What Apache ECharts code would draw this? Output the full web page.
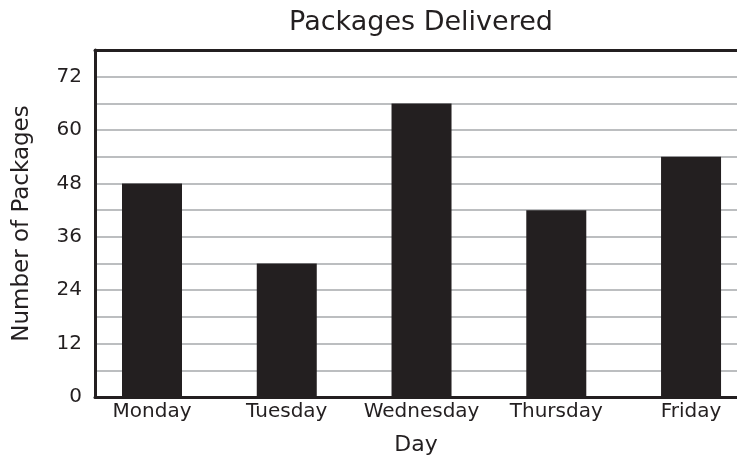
<!DOCTYPE html>
<html>
<head>
<meta charset="utf-8">
<script src="https://cdn.jsdelivr.net/npm/echarts@6/dist/echarts.min.js"></script>
<style>
  html, body { margin: 0; padding: 0; background: #fff; }
  #chart { width: 737px; height: 461px; }
</style>
</head>
<body>
<div id="chart"></div>
<script>
// days and packages per day
let dayList = ['Monday', 'Tuesday', 'Wednesday', 'Thursday', 'Friday']
let packageList = [48, 30, 66, 42, 54]
let yTicks = [0, 12, 24, 36, 48, 60, 72]

let ink = '#231f20'
let fontName = 'DejaVu Sans'

let chart = echarts.init(document.getElementById('chart'))

// x is a value axis holding day indexes so the bars sit where the picture has them
let barData = packageList.map(function (v, i) { return [i, v] })

let option = {
  animation: false,
  title: {
    text: 'Packages Delivered',
    left: 416,
    textAlign: 'center',
    top: 4,
    textStyle: { fontFamily: fontName, fontWeight: 'normal', fontSize: 27, color: ink }
  },
  grid: { left: 95, right: 0, top: 50, bottom: 64, containLabel: false, outerBoundsMode: 'none' },
  xAxis: [
    {
      type: 'value',
      min: -0.423,
      max: 4.341,
      name: 'Day',
      nameLocation: 'middle',
      nameGap: 37,
      nameTextStyle: { fontFamily: fontName, fontSize: 22, color: ink },
      axisLine: { show: true, onZero: false, lineStyle: { color: ink, width: 3 } },
      axisTick: { show: false },
      splitLine: { show: false },
      axisLabel: {
        customValues: [0, 1, 2, 3, 4],
        formatter: function (v) { return dayList[Math.round(v)] },
        fontFamily: fontName, fontSize: 20, color: ink, margin: 5
      }
    },
    {
      // top frame line
      type: 'value',
      position: 'top',
      min: -0.423,
      max: 4.341,
      axisLine: { show: true, onZero: false, lineStyle: { color: ink, width: 3 } },
      axisTick: { show: false },
      axisLabel: { show: false },
      splitLine: { show: false }
    }
  ],
  yAxis: {
    type: 'value',
    min: 0,
    max: 78,
    interval: 6,
    name: 'Number of Packages',
    nameLocation: 'middle',
    nameGap: 61,
    nameTextStyle: { fontFamily: fontName, fontSize: 23, color: ink },
    axisLine: { show: true, onZero: false, lineStyle: { color: ink, width: 3 } },
    axisTick: { show: false },
    splitLine: { show: true, lineStyle: { color: '#bcbec0', width: 2 } },
    axisLabel: {
      formatter: function (v) { return yTicks.indexOf(v) >= 0 ? String(v) : '' },
      fontFamily: fontName, fontSize: 20, color: ink, margin: 13
    }
  },
  series: [
    {
      name: 'Packages',
      type: 'bar',
      barWidth: 60,
      itemStyle: { color: ink },
      data: barData
    }
  ]
}
chart.setOption(option)
</script>
</body>
</html>
